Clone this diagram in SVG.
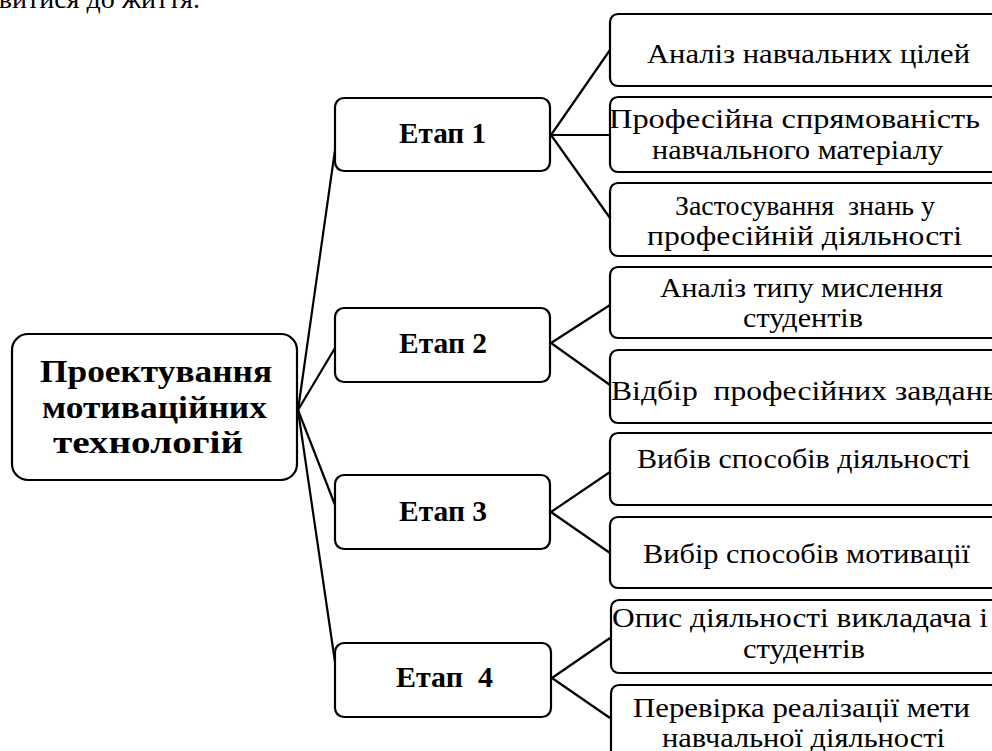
<svg xmlns="http://www.w3.org/2000/svg" width="992" height="751" viewBox="0 0 992 751">
<style>
.box{fill:#fff;stroke:#000;stroke-width:2.2}
.ln{stroke:#000;stroke-width:2.2;fill:none}
.t{font-family:"Liberation Serif","Times New Roman",serif;font-size:28px;fill:#000}
.b{font-family:"Liberation Serif","Times New Roman",serif;font-weight:bold;fill:#000}
.m{font-size:32px}
.e{font-size:29px}
</style>
<rect width="992" height="751" fill="#fff"/>
<text class="t" x="200" y="8" text-anchor="end" font-size="26">витися до життя.</text>
<g id="connectors">
<line class="ln" x1="298" y1="410" x2="335" y2="150"/>
<line class="ln" x1="298" y1="410" x2="335" y2="348"/>
<line class="ln" x1="298" y1="410" x2="335" y2="505"/>
<line class="ln" x1="298" y1="410" x2="335" y2="662"/>
<line class="ln" x1="551" y1="135" x2="610" y2="50"/>
<line class="ln" x1="551" y1="135" x2="610" y2="135"/>
<line class="ln" x1="551" y1="135" x2="610" y2="218"/>
<line class="ln" x1="551" y1="343" x2="610" y2="305"/>
<line class="ln" x1="551" y1="343" x2="610" y2="385"/>
<line class="ln" x1="551" y1="512" x2="610" y2="472"/>
<line class="ln" x1="551" y1="512" x2="610" y2="553"/>
<line class="ln" x1="552" y1="678" x2="610" y2="638"/>
<line class="ln" x1="552" y1="678" x2="610" y2="718"/>
</g>
<g id="main">
<rect class="box" x="12" y="334" width="285" height="146" rx="16"/>
<text class="b m" x="40" y="382" textLength="232" lengthAdjust="spacingAndGlyphs">Проектування</text>
<text class="b m" x="42" y="418" textLength="225" lengthAdjust="spacingAndGlyphs">мотиваційних</text>
<text class="b m" x="53" y="453" textLength="190" lengthAdjust="spacingAndGlyphs">технологій</text>
</g>
<g id="etap1">
<rect class="box" x="335" y="98" width="215" height="73" rx="9"/>
<text class="b e" x="399" y="143" textLength="87" lengthAdjust="spacingAndGlyphs">Етап 1</text>
</g>
<g id="etap2">
<rect class="box" x="335" y="308" width="215" height="74" rx="9"/>
<text class="b e" x="399" y="353" textLength="88" lengthAdjust="spacingAndGlyphs">Етап 2</text>
</g>
<g id="etap3">
<rect class="box" x="335" y="475" width="215" height="74" rx="9"/>
<text class="b e" x="399" y="521" textLength="88" lengthAdjust="spacingAndGlyphs">Етап 3</text>
</g>
<g id="etap4">
<rect class="box" x="335" y="643" width="216" height="74" rx="9"/>
<text class="b e" x="396" y="687" textLength="97" lengthAdjust="spacingAndGlyphs" xml:space="preserve">Етап  4</text>
</g>
<g id="a1">
<rect class="box" x="610" y="14" width="400" height="72" rx="8"/>
<text class="t" x="647" y="63" textLength="323" lengthAdjust="spacingAndGlyphs">Аналіз навчальних цілей</text>
</g>
<g id="a2">
<rect class="box" x="610" y="97" width="400" height="75" rx="8"/>
<text class="t" x="609" y="128" textLength="371" lengthAdjust="spacingAndGlyphs">Професійна спрямованість</text>
<text class="t" x="652" y="159" textLength="291" lengthAdjust="spacingAndGlyphs">навчального матеріалу</text>
</g>
<g id="a3">
<rect class="box" x="610" y="183" width="400" height="73" rx="8"/>
<text class="t" x="675" y="215" textLength="260" lengthAdjust="spacingAndGlyphs" xml:space="preserve">Застосування  знань у</text>
<text class="t" x="647" y="245" textLength="315" lengthAdjust="spacingAndGlyphs">професійній діяльності</text>
</g>
<g id="b1">
<rect class="box" x="610" y="267" width="400" height="71" rx="8"/>
<text class="t" x="660" y="297" textLength="283" lengthAdjust="spacingAndGlyphs">Аналіз типу мислення</text>
<text class="t" x="743" y="327" textLength="120" lengthAdjust="spacingAndGlyphs">студентів</text>
</g>
<g id="b2">
<rect class="box" x="610" y="350" width="400" height="73" rx="8"/>
<text class="t" x="611" y="400" textLength="386" lengthAdjust="spacingAndGlyphs" xml:space="preserve">Відбір  професійних завдань</text>
</g>
<g id="b3">
<rect class="box" x="610" y="433" width="400" height="72" rx="8"/>
<text class="t" x="637" y="468" textLength="333" lengthAdjust="spacingAndGlyphs">Вибів способів діяльності</text>
</g>
<g id="b4">
<rect class="box" x="610" y="517" width="400" height="71" rx="8"/>
<text class="t" x="643" y="563" textLength="327" lengthAdjust="spacingAndGlyphs">Вибір способів мотивації</text>
</g>
<g id="c1">
<rect class="box" x="611" y="600" width="400" height="73" rx="8"/>
<text class="t" x="612" y="627" textLength="376" lengthAdjust="spacingAndGlyphs">Опис діяльності викладача і</text>
<text class="t" x="743" y="658" textLength="122" lengthAdjust="spacingAndGlyphs">студентів</text>
</g>
<g id="c2">
<rect class="box" x="611" y="685" width="400" height="100" rx="8"/>
<text class="t" x="633" y="717" textLength="337" lengthAdjust="spacingAndGlyphs">Перевірка реалізації мети</text>
<text class="t" x="662" y="747" textLength="283" lengthAdjust="spacingAndGlyphs">навчальної діяльності</text>
</g>
</svg>
